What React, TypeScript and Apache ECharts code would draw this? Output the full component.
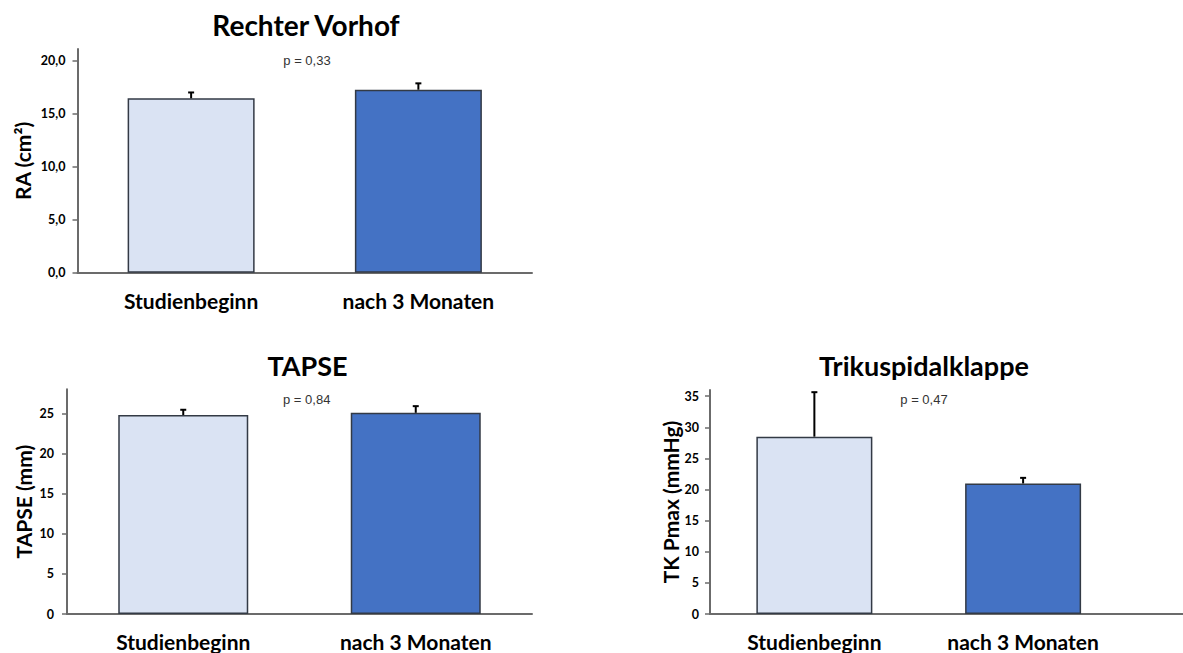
import React, { useEffect, useRef } from "react";
import * as echarts from "echarts";

// ---- data ----
const categories = ["Studienbeginn", "nach 3 Monaten"];

const raTitle = "Rechter Vorhof";
const raAxisName = "RA (cm²)";
const raValues = [16.45, 17.26];
const raErrors = [0.55, 0.6];
const raTicks = [0, 5, 10, 15, 20];
const raP = "p = 0,33";

const tapseTitle = "TAPSE";
const tapseAxisName = "TAPSE (mm)";
const tapseValues = [24.8, 25.07];
const tapseErrors = [0.65, 0.83];
const tapseTicks = [0, 5, 10, 15, 20, 25];
const tapseP = "p = 0,84";

const tkTitle = "Trikuspidalklappe";
const tkAxisName = "TK Pmax (mmHg)";
const tkValues = [28.5, 20.98];
const tkErrors = [7.15, 0.9];
const tkTicks = [0, 5, 10, 15, 20, 25, 30, 35];
const tkP = "p = 0,47";

const barColors = ["#DAE3F3", "#4472C4"];

const FONT = "Lato";

type Panel = {
  title: string;
  axisName: string;
  values: number[];
  errors: number[];
  ticks: number[];
  p: string;
  decimals: number;
  grid: { left: number; top: number; width: number; height: number };
  yMax: number;
  xMax: number;
  barWidth: number;
  nameGap: number;
  labelMargin: number;
  titlePos: [number, number];
  titleSize: number;
  pPos: [number, number];
};

const panels: Panel[] = [
  {
    title: raTitle, axisName: raAxisName, values: raValues, errors: raErrors, ticks: raTicks, p: raP, decimals: 1,
    grid: { left: 77.5, top: 49, width: 454.5, height: 223.7 }, yMax: 21.1, xMax: 1.5, barWidth: 127,
    nameGap: 45, labelMargin: 12, titlePos: [306, 25], titleSize: 28, pPos: [307, 60],
  },
  {
    title: tapseTitle, axisName: tapseAxisName, values: tapseValues, errors: tapseErrors, ticks: tapseTicks, p: tapseP, decimals: 0,
    grid: { left: 67, top: 389.3, width: 465, height: 224.7 }, yMax: 28, xMax: 1.5, barWidth: 130,
    nameGap: 33, labelMargin: 13, titlePos: [307.5, 365], titleSize: 27, pPos: [306.7, 399],
  },
  {
    title: tkTitle, axisName: tkAxisName, values: tkValues, errors: tkErrors, ticks: tkTicks, p: tkP, decimals: 0,
    grid: { left: 710, top: 390, width: 473, height: 224 }, yMax: 36, xMax: 1.766, barWidth: 116,
    nameGap: 18, labelMargin: 11, titlePos: [924, 365], titleSize: 27, pPos: [924, 399],
  },
];

export default function App() {
  const ref = useRef<HTMLDivElement>(null);

  useEffect(() => {
    if (!ref.current) return;
    const chart = echarts.init(ref.current, undefined, { renderer: "svg" });

    const grids: any[] = [];
    const xAxes: any[] = [];
    const yAxes: any[] = [];
    const series: any[] = [];
    const graphics: any[] = [];

    panels.forEach((pnl, i) => {
      grids.push({ ...pnl.grid, containLabel: false });
      xAxes.push({
        type: "value",
        gridIndex: i,
        min: -0.5,
        max: pnl.xMax,
        splitLine: { show: false },
        axisTick: { show: false },
        axisLine: { show: true, onZero: false, lineStyle: { color: "#6b6b6b", width: 2 } },
        axisLabel: {
          customValues: [0, 1],
          formatter: (v: number) => categories[Math.round(v)] ?? "",
          fontFamily: FONT,
          fontWeight: "bold",
          fontSize: 21,
          color: "#000",
          margin: 17,
        },
      });
      yAxes.push({
        type: "value",
        gridIndex: i,
        min: 0,
        max: pnl.yMax,
        name: pnl.axisName,
        nameLocation: "middle",
        nameRotate: 90,
        nameGap: pnl.nameGap,
        nameTextStyle: { fontFamily: FONT, fontWeight: "bold", fontSize: 21, color: "#000" },
        splitLine: { show: false },
        axisLine: { show: true, onZero: false, lineStyle: { color: "#6b6b6b", width: 2 } },
        axisTick: { show: true, customValues: pnl.ticks, length: 5, lineStyle: { color: "#6b6b6b", width: 1.5 } },
        axisLabel: {
          customValues: pnl.ticks,
          formatter: (v: number) => v.toFixed(pnl.decimals).replace(".", ","),
          fontFamily: FONT,
          fontWeight: "bold",
          fontSize: 12.5,
          color: "#000",
          margin: pnl.labelMargin,
        },
      });
      series.push({
        type: "bar",
        xAxisIndex: i,
        yAxisIndex: i,
        barWidth: pnl.barWidth,
        data: pnl.values.map((v, k) => ({
          value: [k, v],
          itemStyle: { color: barColors[k], borderColor: "#333a45", borderWidth: 1.5 },
        })),
        z: 2,
      });
      series.push({
        type: "custom",
        xAxisIndex: i,
        yAxisIndex: i,
        encode: { x: 0, y: 1 },
        data: pnl.values.map((v, k) => [k, v, pnl.errors[k]]),
        z: 3,
        renderItem: (_params: any, api: any) => {
          const x = api.value(0);
          const v = api.value(1);
          const e = api.value(2);
          const p1 = api.coord([x, v]);
          const p2 = api.coord([x, v + e]);
          return {
            type: "group",
            children: [
              { type: "line", shape: { x1: p1[0], y1: p1[1], x2: p2[0], y2: p2[1] }, style: { stroke: "#000", lineWidth: 2 } },
              { type: "line", shape: { x1: p2[0] - 3, y1: p2[1], x2: p2[0] + 3, y2: p2[1] }, style: { stroke: "#000", lineWidth: 2 } },
            ],
          };
        },
      });
      graphics.push({
        type: "text",
        x: pnl.titlePos[0],
        y: pnl.titlePos[1],
        style: {
          text: pnl.title,
          align: "center",
          verticalAlign: "middle",
          fontFamily: FONT,
          fontWeight: "bold",
          fontSize: pnl.titleSize,
          fill: "#000",
        },
      });
      graphics.push({
        type: "text",
        x: pnl.pPos[0],
        y: pnl.pPos[1],
        style: {
          text: pnl.p,
          align: "center",
          verticalAlign: "middle",
          fontFamily: "Liberation Sans",
          fontSize: 13,
          fill: "#333",
        },
      });
    });

    chart.setOption({
      animation: false,
      backgroundColor: "#fff",
      grid: grids,
      xAxis: xAxes,
      yAxis: yAxes,
      series,
      graphic: graphics,
    });

    return () => chart.dispose();
  }, []);

  return (
    <div
      ref={ref}
      style={{ position: "absolute", left: 0, top: 0, width: 1183, height: 653, background: "#fff" }}
    />
  );
}
